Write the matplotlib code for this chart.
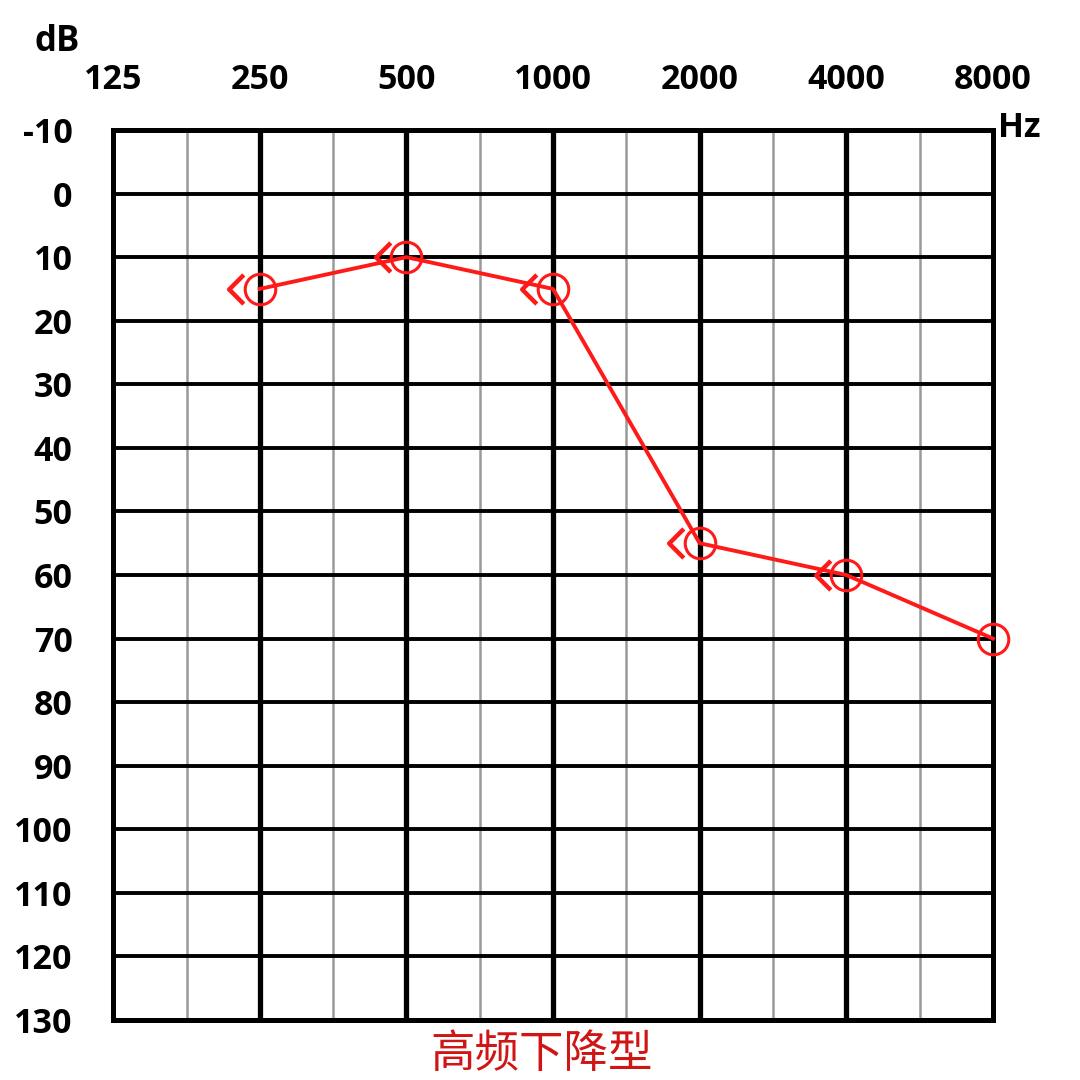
import matplotlib
matplotlib.use("Agg")
import matplotlib.pyplot as plt
from matplotlib.path import Path
from matplotlib.transforms import ScaledTranslation

# Data
freqs = [125, 250, 500, 1000, 2000, 4000, 8000]
freq_labels = ["125", "250", "500", "1000", "2000", "4000", "8000"]
db_ticks = list(range(-10, 131, 10))
air_freqs = [250, 500, 1000, 2000, 4000, 8000]
air_db = [15, 10, 15, 55, 60, 70]
bone_freqs = [250, 500, 1000, 2000, 4000]
bone_db = [15, 10, 15, 55, 60]
half_octaves = [177, 354, 707, 1414, 2828, 5657]
title = "高频下降型"

plt.rcParams['font.family'] = ['Open Sans', 'DejaVu Sans']

fig = plt.figure(figsize=(10.8, 10.8), dpi=100)
ax = fig.add_axes([113/1080, 1 - 1020/1080, 880/1080, 890/1080])
ax.set_xscale('log', base=2)
ax.set_xlim(125, 8000)
ax.set_ylim(130, -10)

# grid
for f in half_octaves:
    ax.axvline(f, color='#9a9a9a', lw=1.8, zorder=1)
for f in freqs[1:-1]:
    ax.axvline(f, color='black', lw=3.8, zorder=2)
for d in db_ticks[1:-1]:
    ax.axhline(d, color='black', lw=2.8, zorder=2)
for s in ax.spines.values():
    s.set_linewidth(3.6)
    s.set_zorder(3)

ax.xaxis.tick_top()
ax.set_xticks(freqs)
ax.set_xticklabels(freq_labels)
ax.xaxis.set_minor_locator(matplotlib.ticker.NullLocator())
ax.set_yticks(db_ticks)
ax.set_yticklabels([str(d) for d in db_ticks])
ax.tick_params(axis='x', length=0, pad=24, labelsize=24.5)
ax.tick_params(axis='y', length=0, pad=29, labelsize=24.5)
for lbl in ax.get_xticklabels() + ax.get_yticklabels():
    lbl.set_fontweight('bold')

# air conduction
ax.plot(air_freqs, air_db, color='#ff1a1a', lw=2.8, marker='o', markersize=22,
        markerfacecolor='none', markeredgecolor='#ff1a1a', markeredgewidth=2.2,
        zorder=5, clip_on=False)

# bone conduction "<" markers, shifted left
chevron = Path([(0.5, 1.0), (-0.5, 0.0), (0.5, -1.0)],
               [Path.MOVETO, Path.LINETO, Path.LINETO])
offset = ax.transData + ScaledTranslation(-17/72, 0, fig.dpi_scale_trans)
ax.plot(bone_freqs, bone_db, linestyle='none', marker=chevron, markersize=21,
        markerfacecolor='none', markeredgecolor='#ff1a1a', markeredgewidth=3.2,
        transform=offset, zorder=5, clip_on=False)

fig.text(57/1080, 1 - 42/1080, "dB", ha='center', va='center', fontsize=25, fontweight='bold')
fig.text(998/1080, 1 - 128/1080, "Hz", ha='left', va='center', fontsize=24.5, fontweight='bold')
fig.text(542/1080, 1 - 1054/1080, title, ha='center', va='center', fontsize=32,
         color='#d01515', family=['Noto Sans CJK SC', 'DejaVu Sans'])

fig.savefig("out.png", dpi=100, facecolor='white')
